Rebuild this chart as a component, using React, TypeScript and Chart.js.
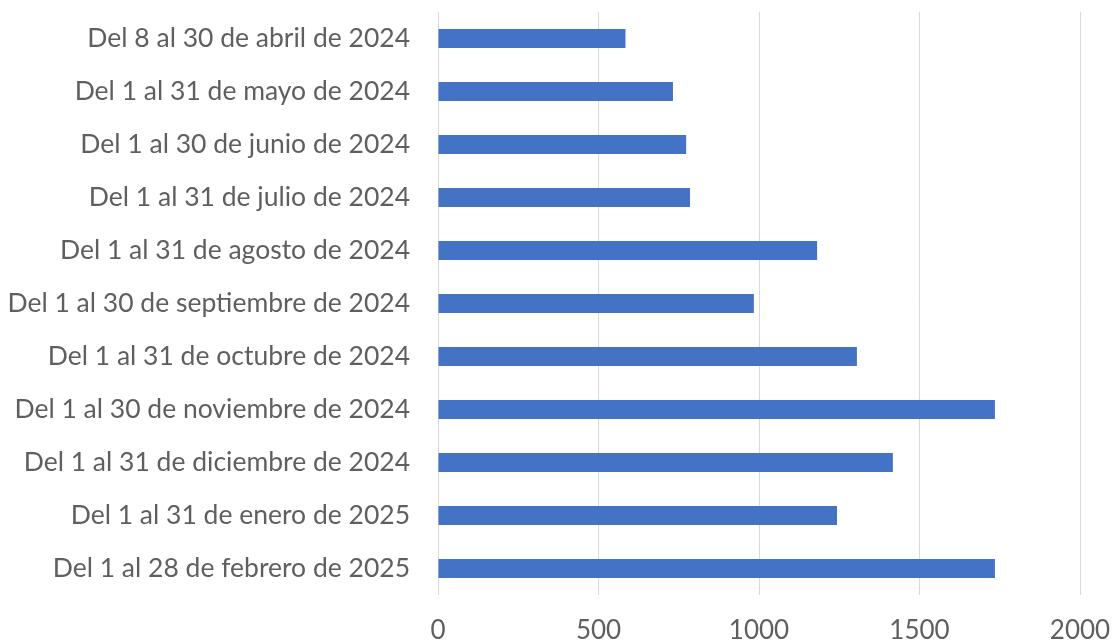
import React, { useEffect, useRef } from "react";
import { Chart, registerables } from "chart.js";

Chart.register(...registerables);

const categories = [
  "Del 8 al 30 de abril de 2024",
  "Del 1 al 31 de mayo de 2024",
  "Del 1 al 30 de junio de 2024",
  "Del 1 al 31 de julio de 2024",
  "Del 1 al 31 de agosto de 2024",
  "Del 1 al 30 de septiembre de 2024",
  "Del 1 al 31 de octubre de 2024",
  "Del 1 al 30 de noviembre de 2024",
  "Del 1 al 31 de diciembre de 2024",
  "Del 1 al 31 de enero de 2025",
  "Del 1 al 28 de febrero de 2025",
];

const values = [584, 732, 773, 785, 1181, 984, 1305, 1735, 1417, 1243, 1735];

const xMin = 0;
const xMax = 2000;
const xStep = 500;

export default function App() {
  const ref = useRef<HTMLCanvasElement | null>(null);

  useEffect(() => {
    if (!ref.current) return;
    const chart = new Chart(ref.current, {
      type: "bar",
      data: {
        labels: categories,
        datasets: [
          {
            data: values,
            backgroundColor: "#4472C4",
            borderWidth: 0,
            barPercentage: 0.72,
            categoryPercentage: 0.5,
          },
        ],
      },
      options: {
        indexAxis: "y",
        animation: false,
        responsive: true,
        maintainAspectRatio: false,
        layout: { padding: { top: 12, right: 35, bottom: 0, left: 0 } },
        plugins: {
          legend: { display: false },
          tooltip: { enabled: false },
        },
        scales: {
          x: {
            min: xMin,
            max: xMax,
            ticks: {
              stepSize: xStep,
              color: "#5f5f5f",
              font: { family: "Lato", size: 26 },
              padding: 20,
              callback: (v: any) => String(v),
            },
            grid: { color: "#d9d9d9", lineWidth: 1, drawTicks: false },
            border: { display: false },
            afterFit: (scale: any) => {
              scale.height = 48;
              scale.paddingLeft = 0;
              scale.paddingRight = 0;
            },
          },
          y: {
            ticks: {
              color: "#5f5f5f",
              font: { family: "Lato", size: 26.5 },
              padding: 28,
            },
            grid: { display: false, drawTicks: false },
            border: { display: false },
            afterFit: (scale: any) => {
              scale.width = 438;
              scale.paddingTop = 0;
              scale.paddingBottom = 0;
            },
          },
        },
      },
    });
    return () => chart.destroy();
  }, []);

  return (
    <div style={{ position: "fixed", left: 0, top: 0, width: 1115, height: 643, background: "#fff" }}>
      <canvas ref={ref} />
    </div>
  );
}
